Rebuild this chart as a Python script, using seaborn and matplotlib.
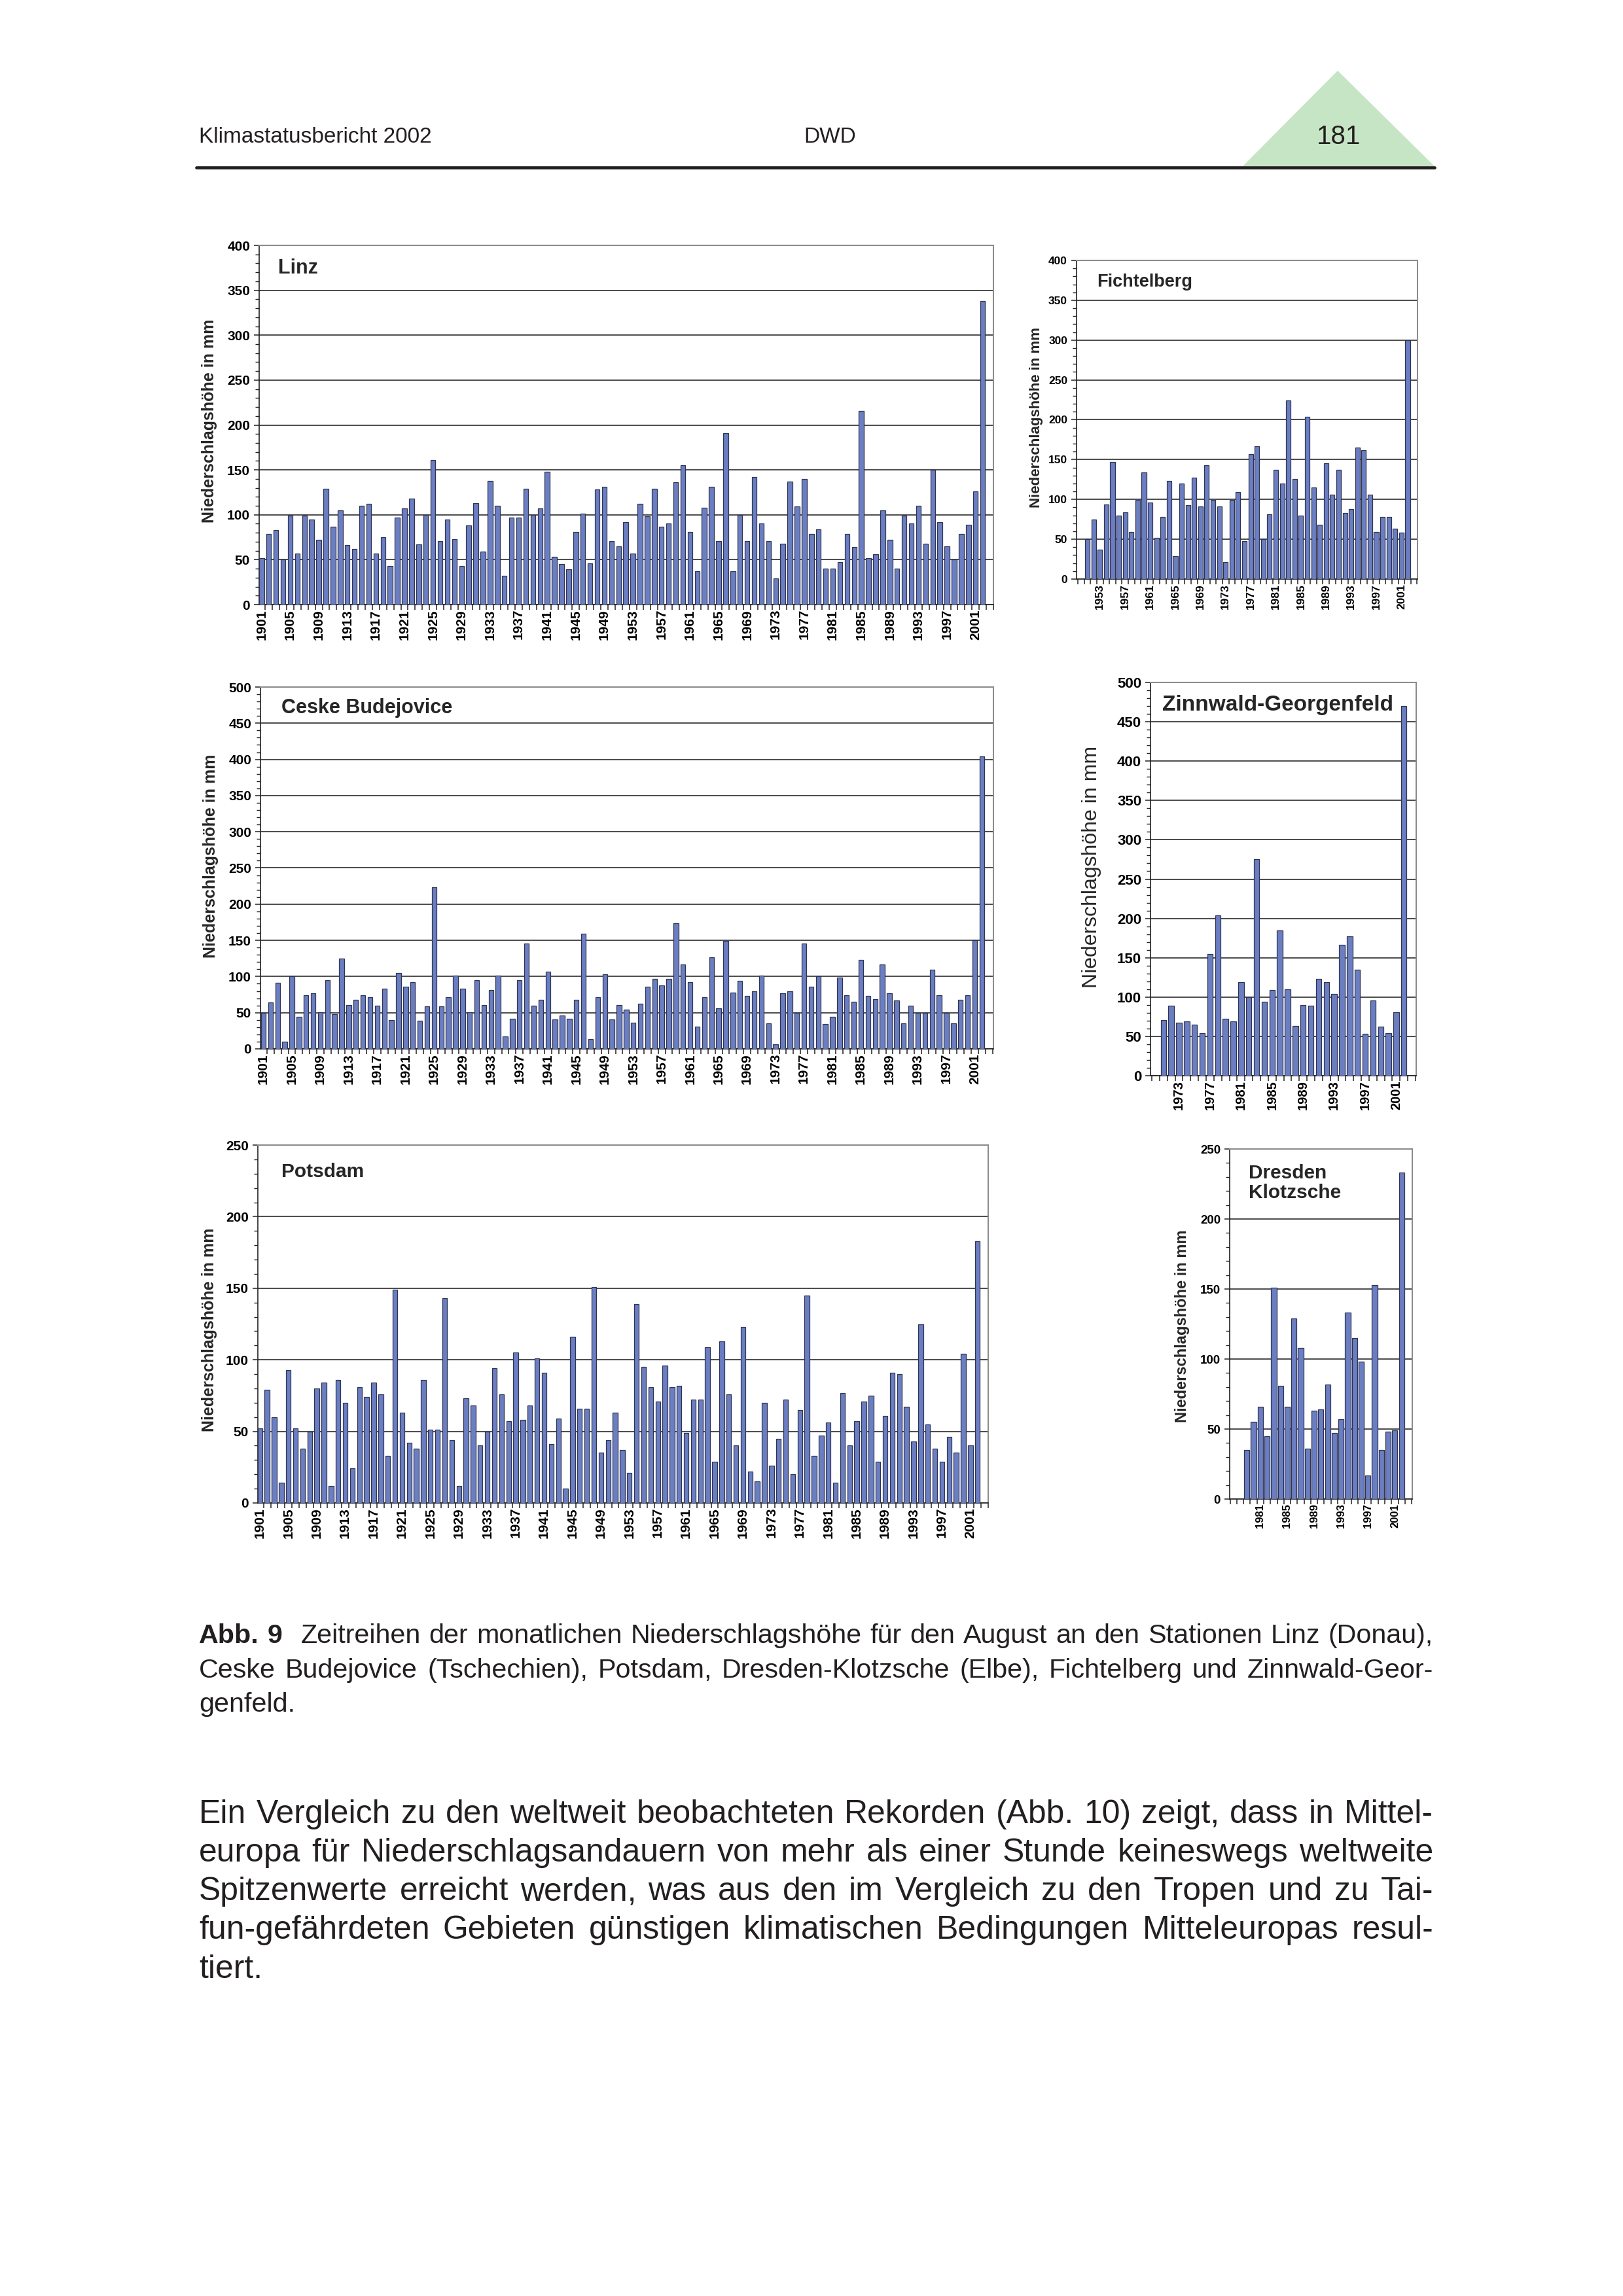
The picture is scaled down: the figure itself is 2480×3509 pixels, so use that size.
import matplotlib
matplotlib.use('Agg')
import matplotlib.pyplot as plt
import seaborn as sns
import numpy as np
import pandas as pd
from matplotlib.patches import Polygon
from matplotlib.lines import Line2D

sns.set_theme(style='ticks')
plt.rcParams['font.family'] = ['Liberation Sans', 'DejaVu Sans']

# ---------------- data ----------------
linz_years = list(range(1901, 2003))
linz_values = [52, 79, 83, 50, 99, 57, 99, 95, 72, 129,
               87, 105, 66, 62, 110, 112, 57, 75, 43, 97,
               107, 118, 67, 100, 161, 71, 95, 73, 43, 88,
               113, 59, 138, 110, 32, 97, 97, 129, 100, 107,
               148, 53, 45, 39, 81, 101, 46, 128, 131, 71,
               65, 92, 57, 112, 98, 129, 87, 90, 136, 155,
               81, 37, 108, 131, 71, 191, 37, 100, 71, 142,
               90, 71, 29, 68, 137, 109, 140, 79, 84, 40,
               40, 47, 79, 64, 216, 52, 56, 105, 72, 40,
               99, 90, 110, 68, 150, 92, 65, 50, 79, 89,
               126, 338]

ceske_years = list(range(1901, 2003))
ceske_values = [50, 64, 91, 10, 100, 44, 74, 77, 51, 95,
                48, 125, 61, 68, 74, 71, 60, 83, 40, 105,
                86, 92, 39, 59, 223, 59, 71, 101, 83, 51,
                95, 61, 81, 101, 17, 42, 95, 146, 60, 68,
                107, 41, 46, 42, 68, 159, 14, 71, 103, 41,
                61, 54, 36, 62, 86, 97, 88, 97, 174, 117,
                92, 31, 71, 127, 56, 149, 78, 94, 73, 80,
                101, 35, 6, 77, 80, 50, 146, 86, 100, 34,
                44, 99, 74, 65, 123, 73, 69, 117, 77, 67,
                35, 60, 50, 50, 109, 74, 50, 35, 68, 74,
                150, 404]

potsdam_years = list(range(1901, 2003))
potsdam_values = [52, 79, 60, 14, 93, 52, 38, 50, 80, 84,
                  12, 86, 70, 24, 81, 74, 84, 76, 33, 149,
                  63, 42, 38, 86, 51, 51, 143, 44, 12, 73,
                  68, 40, 50, 94, 76, 57, 105, 58, 68, 101,
                  91, 41, 59, 10, 116, 66, 66, 151, 35, 44,
                  63, 37, 21, 139, 95, 81, 71, 96, 81, 82,
                  49, 72, 72, 109, 29, 113, 76, 40, 123, 22,
                  15, 70, 26, 45, 72, 20, 65, 145, 33, 47,
                  56, 14, 77, 40, 57, 71, 75, 29, 61, 91,
                  90, 67, 43, 125, 55, 38, 29, 46, 35, 104,
                  40, 183]

fichtelberg_years = list(range(1951, 2003))
fichtelberg_values = [50, 75, 37, 94, 147, 80, 84, 59, 99, 134,
                      96, 52, 78, 123, 29, 120, 93, 127, 91, 143,
                      99, 91, 21, 99, 109, 48, 157, 167, 50, 81,
                      137, 120, 224, 126, 80, 204, 115, 68, 145, 106,
                      137, 83, 88, 165, 162, 106, 59, 78, 78, 63,
                      58, 300]

zinnwald_years = list(range(1971, 2003))
zinnwald_values = [71, 89, 67, 69, 65, 54, 155, 204, 72, 69,
                   119, 100, 275, 94, 109, 185, 110, 63, 90, 89,
                   123, 119, 104, 166, 177, 135, 53, 96, 62, 54,
                   81, 470]

dresden_years = list(range(1979, 2003))
dresden_values = [35, 55, 66, 45, 151, 81, 66, 129, 108, 36,
                  63, 64, 82, 47, 57, 133, 115, 98, 17, 153,
                  35, 48, 49, 233]

YLABEL = 'Niederschlagshöhe in mm'

# ---------------- figure ----------------
W, H = 2480, 3509
fig = plt.figure(figsize=(W / 100, H / 100), dpi=100)
fig.patch.set_facecolor('white')

BAR = '#6B7EC1'
EDGE = '#2E3452'
GRID = '#3C3C3C'
FRAME = '#8C8C8C'
AX = '#222222'


def add_panel(L, T, R, B, years, values, ymax, width, lpad, rpad, ytick_fs, xtick_fs):
    ax = fig.add_axes([L / W, 1 - B / H, (R - L) / W, (B - T) / H])
    df = pd.DataFrame({'Jahr': [str(y) for y in years], 'mm': values})
    sns.barplot(data=df, x='Jahr', y='mm', ax=ax, color=BAR, saturation=1,
                edgecolor=EDGE, linewidth=0.9, width=width, zorder=3)
    n = len(years)
    ax.set_xlim(-lpad, n - 1 + rpad)
    ax.set_ylim(0, ymax)
    major = np.arange(0, ymax + 1, 50)
    ax.set_yticks(major)
    ax.set_yticklabels([str(int(v)) for v in major], fontsize=ytick_fs, fontweight='bold')
    ax.set_yticks(np.arange(0, ymax + 1, 10), minor=True)
    idx = [i for i, y in enumerate(years) if y % 4 == 1]
    ax.set_xticks(idx)
    ax.set_xticklabels([str(years[i]) for i in idx], rotation=90,
                       fontsize=xtick_fs, fontweight='bold')
    b = np.arange(np.floor(-lpad) + 0.5, n + rpad, 1.0)
    b = b[(b >= -lpad - 1e-6) & (b <= n - 1 + rpad + 1e-6)]
    ax.set_xticks(b, minor=True)
    ax.tick_params(axis='x', which='major', bottom=True, length=0, pad=5, colors='black')
    ax.tick_params(axis='x', which='minor', bottom=True, length=6, width=1.1, color=AX, direction='out')
    ax.tick_params(axis='y', which='major', left=True, length=6, width=1.1, color=AX,
                   direction='out', pad=4, labelcolor='black')
    ax.tick_params(axis='y', which='minor', left=True, length=4, width=1.0, color=AX, direction='out')
    ax.yaxis.grid(True, which='major', color=GRID, linewidth=1.3)
    ax.xaxis.grid(False)
    ax.set_axisbelow(True)
    ax.set_xlabel('')
    ax.set_ylabel('')
    for s in ['left', 'bottom']:
        ax.spines[s].set_color(AX)
        ax.spines[s].set_linewidth(1.2)
    for s in ['top', 'right']:
        ax.spines[s].set_visible(True)
        ax.spines[s].set_color(FRAME)
        ax.spines[s].set_linewidth(1.5)
    return ax


def ftext(x, y, s, **kw):
    return fig.text(x / W, 1 - y / H, s, **kw)


# Linz
add_panel(396, 375, 1518, 924, linz_years, linz_values, 400, 0.68, 0.35, 1.5, 15, 15)
ftext(425, 410, 'Linz', fontsize=22, fontweight='bold', ha='left', va='center')
ftext(320, 643, YLABEL, fontsize=18, fontweight='bold', rotation=90, ha='center', va='center')

# Fichtelberg
add_panel(1645, 398, 2166, 885, fichtelberg_years, fichtelberg_values, 400, 0.74, 1.73, 1.56, 12.5, 12.5)
ftext(1676, 431, 'Fichtelberg', fontsize=19.5, fontweight='bold', ha='left', va='center')
ftext(1583, 638, YLABEL, fontsize=16, fontweight='bold', rotation=90, ha='center', va='center')

# Ceske Budejovice
add_panel(398, 1050, 1518, 1603, ceske_years, ceske_values, 500, 0.68, 0.41, 1.63, 15, 15)
ftext(430, 1082, 'Ceske Budejovice', fontsize=22, fontweight='bold', ha='left', va='center')
ftext(322, 1308, YLABEL, fontsize=18, fontweight='bold', rotation=90, ha='center', va='center')

# Zinnwald-Georgenfeld
add_panel(1758, 1043, 2164, 1644, zinnwald_years, zinnwald_values, 500, 0.71, 1.67, 1.58, 16, 14.5)
ftext(1776, 1077, 'Zinnwald-Georgenfeld', fontsize=24, fontweight='bold', ha='left', va='center')
ftext(1668, 1325, YLABEL, fontsize=23, fontweight='normal', rotation=90, ha='center', va='center')

# Potsdam
add_panel(394, 1750, 1510, 2297, potsdam_years, potsdam_values, 250, 0.68, 0.3, 1.5, 15, 15)
ftext(430, 1791, 'Potsdam', fontsize=21.5, fontweight='bold', ha='left', va='center')
ftext(320, 2032, YLABEL, fontsize=18, fontweight='bold', rotation=90, ha='center', va='center')

# Dresden Klotzsche
add_panel(1879, 1756, 2158, 2291, dresden_years, dresden_values, 250, 0.8, 2.56, 1.59, 13.5, 12)
ftext(1908, 1808, 'Dresden\nKlotzsche', fontsize=21.5, fontweight='bold', ha='left', va='center',
      linespacing=1.08)
ftext(1807, 2027, YLABEL, fontsize=17, fontweight='bold', rotation=90, ha='center', va='center')

# ---------------- page header ----------------
ftext(304, 218, 'Klimastatusbericht 2002', fontsize=24, ha='left', va='baseline', color='#231F20')
ftext(1268, 218, 'DWD', fontsize=24, ha='center', va='baseline', color='#231F20')
tri = Polygon([[1899 / W, 1 - 254 / H], [2044 / W, 1 - 108 / H], [2192 / W, 1 - 254 / H]],
              closed=True, transform=fig.transFigure, facecolor='#C6E5C4', edgecolor='none')
fig.add_artist(tri)
ftext(2046, 220, '181', fontsize=29, ha='center', va='baseline', color='#231F20')
fig.add_artist(Line2D([300 / W, 2192 / W], [1 - 256 / H, 1 - 256 / H], transform=fig.transFigure,
                      color='#231F20', linewidth=3.4))

# ---------------- justified text ----------------
renderer = fig.canvas.get_renderer()


def measure(s, fs, weight):
    t = fig.text(0, 0, s, fontsize=fs, fontweight=weight)
    w = t.get_window_extent(renderer=renderer).width
    t.remove()
    return w


def items_from(line, bold_first=0, extra_after_bold=0.0):
    words = line.split()
    out = []
    for i, wd in enumerate(words):
        wt = 'bold' if i < bold_first else 'normal'
        ex = extra_after_bold if (bold_first and i == bold_first - 1) else 0.0
        out.append((wd, wt, ex))
    return out


def natural_width(items, fs):
    space = measure('a a', fs, 'normal') - measure('aa', fs, 'normal')
    ws = sum(measure(s, fs, wt) for s, wt, e in items)
    ex = sum(e * space for s, wt, e in items[:-1])
    return ws + ex + space * (len(items) - 1)


def draw_line(items, fs, y, x0, x1, justify):
    widths = [measure(s, fs, wt) for s, wt, e in items]
    space = measure('a a', fs, 'normal') - measure('aa', fs, 'normal')
    extras = [e * space for s, wt, e in items]
    if justify and len(items) > 1:
        gap = (x1 - x0 - sum(widths) - sum(extras[:-1])) / (len(items) - 1)
    else:
        gap = space
    x = x0
    for (s, wt, e), w, ex in zip(items, widths, extras):
        ftext(x, y, s, fontsize=fs, fontweight=wt, ha='left', va='baseline', color='#231F20')
        x += w + gap + ex


X0, X1 = 304, 2190

caption_lines = [
    'Abb. 9 Zeitreihen der monatlichen Niederschlagshöhe für den August an den Stationen Linz (Donau),',
    'Ceske Budejovice (Tschechien), Potsdam, Dresden-Klotzsche (Elbe), Fichtelberg und Zinnwald-Geor-',
    'genfeld.',
]
cap_items = [items_from(caption_lines[0], bold_first=2, extra_after_bold=1.3),
             items_from(caption_lines[1]), items_from(caption_lines[2])]
fs_c = 27.0
mx = max(natural_width(cap_items[0], fs_c), natural_width(cap_items[1], fs_c))
fs_c = min(fs_c * 1.3, fs_c * (X1 - X0) * 0.99 / mx)
cap_y = [2511, 2564, 2616]
for i, it in enumerate(cap_items):
    draw_line(it, fs_c, cap_y[i], X0, X1, justify=(i < 2))

body_lines = [
    'Ein Vergleich zu den weltweit beobachteten Rekorden (Abb. 10) zeigt, dass in Mittel-',
    'europa für Niederschlagsandauern von mehr als einer Stunde keineswegs weltweite',
    'Spitzenwerte erreicht werden, was aus den im Vergleich zu den Tropen und zu Tai-',
    'fun-gefährdeten Gebieten günstigen klimatischen Bedingungen Mitteleuropas resul-',
    'tiert.',
]
body_items = [items_from(l) for l in body_lines]
fs_b = 33.0
mx = max(natural_width(it, fs_b) for it in body_items[:4])
fs_b = min(fs_b * 1.3, fs_b * (X1 - X0) * 0.99 / mx)
body_y = [2786, 2845, 2904, 2963, 3023]
for i, it in enumerate(body_items):
    draw_line(it, fs_b, body_y[i], X0, X1, justify=(i < 4))

fig.savefig('out.png', dpi=100, facecolor='white')
